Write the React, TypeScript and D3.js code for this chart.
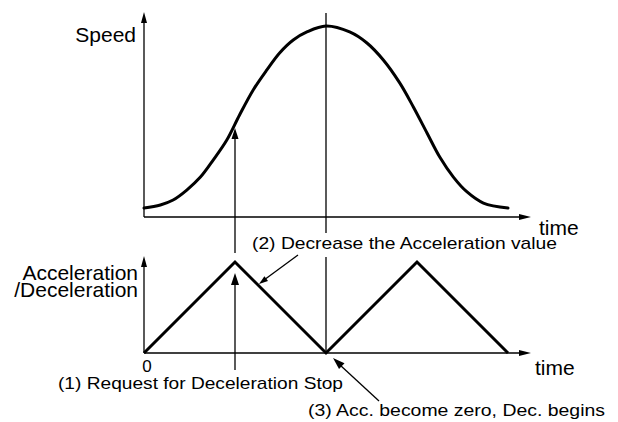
import React from "react";
import * as d3 from "d3";

const speedTimes = [0, 0.18, 0.32, 0.47, 0.62, 0.76, 0.91, 1.05, 1.2, 1.35, 1.49, 1.64, 1.79, 2, 2.26, 2.45, 2.63, 2.81, 2.96, 3.11, 3.25, 3.4, 3.55, 3.73, 4];
const speedValues = [0.047, 0.063, 0.089, 0.141, 0.209, 0.298, 0.403, 0.534, 0.665, 0.77, 0.859, 0.927, 0.969, 1.0, 0.969, 0.911, 0.822, 0.702, 0.576, 0.44, 0.314, 0.209, 0.131, 0.073, 0.047];
const accTimes = [0, 1, 2, 3, 4];
const accValues = [0, 1, 0, 1, 0];
const labels = {
  speed: "Speed",
  time: "time",
  acc1: "Acceleration",
  acc2: "/Deceleration",
  zero: "0",
  note1: "(1) Request for Deceleration Stop",
  note2: "(2) Decrease the Acceleration value",
  note3: "(3) Acc. become zero, Dec. begins",
};

const FONT = "'Liberation Sans', Arial, Helvetica, sans-serif";

function head(tx: number, ty: number, fx: number, fy: number, len: number, hw: number) {
  const dx = tx - fx, dy = ty - fy;
  const l = Math.hypot(dx, dy);
  const ux = dx / l, uy = dy / l;
  const bx = tx - ux * len, by = ty - uy * len;
  const px = -uy, py = ux;
  return `${tx},${ty} ${bx + px * hw},${by + py * hw} ${bx - px * hw},${by - py * hw}`;
}

export default function App() {
  const x = d3.scaleLinear().domain([0, 4]).range([144, 508]);
  const ySpeed = d3.scaleLinear().domain([0, 1]).range([217, 26]);
  const yAcc = d3.scaleLinear().domain([0, 1]).range([353, 262]);

  const speedLine = d3
    .line<number>()
    .x((_, i) => x(speedTimes[i]))
    .y((d) => ySpeed(d))
    .curve(d3.curveCatmullRom)(speedValues) as string;
  const accLine = d3
    .line<number>()
    .x((_, i) => x(accTimes[i]))
    .y((d) => yAcc(d))(accValues) as string;

  const x0 = x(0);
  const xEnd = 531;
  const t1 = x(1);
  const t2 = x(2);
  const speedAt1 = ySpeed(d3.interpolateNumber(0.403, 0.534)((1 - 0.91) / (1.05 - 0.91)));

  const thin = 1.3;
  return (
    <svg width={618} height={422} style={{ position: "absolute", left: 0, top: 0, background: "#fff" }} fontFamily={FONT}>
      <rect width={618} height={422} fill="#fff" />
      {/* top axes */}
      <line x1={x0} y1={ySpeed(0)} x2={x0} y2={20} stroke="#000" strokeWidth={thin} />
      <polygon points={head(x0, 12, x0, 40, 11, 3)} fill="#000" />
      <line x1={x0} y1={ySpeed(0)} x2={xEnd - 8} y2={ySpeed(0)} stroke="#000" strokeWidth={thin} />
      <polygon points={head(xEnd, ySpeed(0), x0, ySpeed(0), 12, 3)} fill="#000" />
      {/* bottom axes */}
      <line x1={x0} y1={yAcc(0)} x2={x0} y2={263} stroke="#000" strokeWidth={thin} />
      <polygon points={head(x0, 256, x0, 300, 11, 3)} fill="#000" />
      <line x1={x0} y1={yAcc(0)} x2={xEnd - 8} y2={yAcc(0)} stroke="#000" strokeWidth={thin} />
      <polygon points={head(xEnd, yAcc(0), x0, yAcc(0), 12, 3)} fill="#000" />
      {/* vertical marker at t=2 */}
      <line x1={t2} y1={13} x2={t2} y2={233} stroke="#000" strokeWidth={thin} />
      <line x1={t2} y1={257} x2={t2} y2={yAcc(0)} stroke="#000" strokeWidth={thin} />
      {/* curves */}
      <path d={speedLine} fill="none" stroke="#000" strokeWidth={3} strokeLinecap="round" />
      <path d={accLine} fill="none" stroke="#000" strokeWidth={3} strokeLinejoin="miter" />
      {/* arrow (1) upper */}
      <line x1={t1} y1={253} x2={t1} y2={speedAt1 + 12} stroke="#000" strokeWidth={thin} />
      <polygon points={head(t1, speedAt1 + 4, t1, 253, 11, 3.5)} fill="#000" />
      {/* arrow (1) lower */}
      <line x1={t1} y1={370} x2={t1} y2={yAcc(1) + 20} stroke="#000" strokeWidth={thin} />
      <polygon points={head(t1, yAcc(1) + 11, t1, 370, 12, 4)} fill="#000" />
      {/* arrow (2) */}
      <line x1={298} y1={255} x2={264} y2={280} stroke="#000" strokeWidth={thin} />
      <polygon points={head(259, 284, 298, 255, 9, 3)} fill="#000" />
      {/* arrow (3) */}
      <line x1={379} y1={401} x2={340} y2={365} stroke="#000" strokeWidth={thin} />
      <polygon points={head(333, 358, 379, 401, 12, 4)} fill="#000" />
      {/* labels */}
      <text x={136} y={41.5} fontSize={21} textAnchor="end">{labels.speed}</text>
      <text x={539} y={235} fontSize={21}>{labels.time}</text>
      <text x={535} y={375} fontSize={21}>{labels.time}</text>
      <text x={138} y={280} fontSize={21} textAnchor="end">{labels.acc1}</text>
      <text x={138} y={297} fontSize={21} textAnchor="end">{labels.acc2}</text>
      <text x={147} y={372} fontSize={17} textAnchor="middle">{labels.zero}</text>
      <text x={58} y={388.5} fontSize={17} textLength={285} lengthAdjust="spacingAndGlyphs">{labels.note1}</text>
      <text x={252} y={248.5} fontSize={17} textLength={305} lengthAdjust="spacingAndGlyphs">{labels.note2}</text>
      <text x={308} y={415.5} fontSize={17} textLength={297} lengthAdjust="spacingAndGlyphs">{labels.note3}</text>
    </svg>
  );
}
